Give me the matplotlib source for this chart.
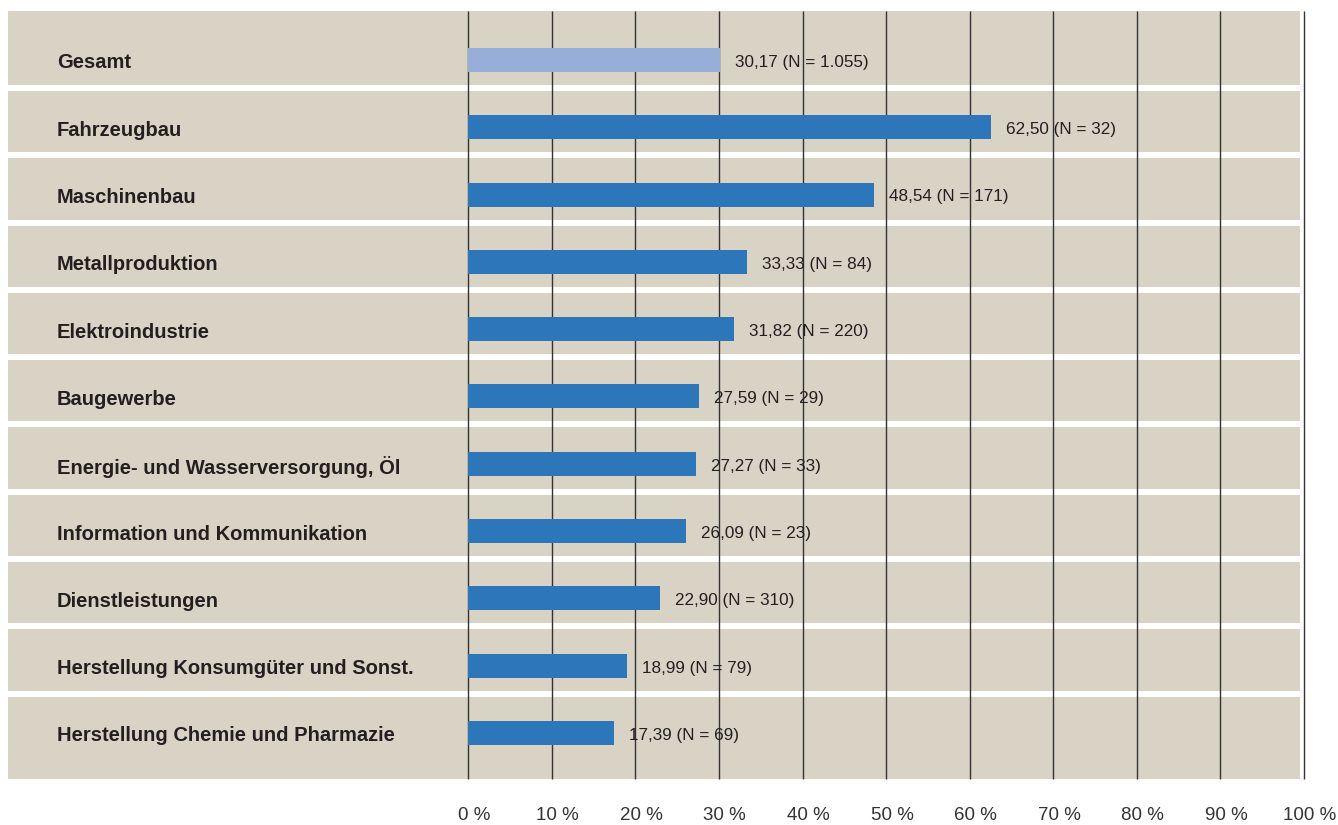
import matplotlib
matplotlib.use("Agg")
import matplotlib.pyplot as plt
from matplotlib.patches import Rectangle
from matplotlib import font_manager

categories = [
    "Gesamt",
    "Fahrzeugbau",
    "Maschinenbau",
    "Metallproduktion",
    "Elektroindustrie",
    "Baugewerbe",
    "Energie- und Wasserversorgung, Öl",
    "Information und Kommunikation",
    "Dienstleistungen",
    "Herstellung Konsumgüter und Sonst.",
    "Herstellung Chemie und Pharmazie",
]
values = [30.17, 62.50, 48.54, 33.33, 31.82, 27.59, 27.27, 26.09, 22.90, 18.99, 17.39]
n_values = ["1.055", "32", "171", "84", "220", "29", "33", "23", "310", "79", "69"]
xticks = [0, 10, 20, 30, 40, 50, 60, 70, 80, 90, 100]
xtick_labels = [f"{t} %" for t in xticks]

names = {f.name for f in font_manager.fontManager.ttflist}
if "Liberation Sans Narrow" in names:
    val_family, val_size = "Liberation Sans Narrow", 14.5
else:
    val_family, val_size = "Liberation Sans", 12.3

BEIGE = "#D9D3C6"
BLUE = "#2E76BA"
LIGHT = "#97AED8"
TXT = "#231F20"

W, H = 1338, 825
fig = plt.figure(figsize=(W / 100, H / 100), dpi=100)
x0, x1 = 468.3, 1304.0
ytop, ybot = 11, 779
ax = fig.add_axes([x0 / W, (H - ybot) / H, (x1 - x0) / W, (ybot - ytop) / H])

ppx = (x1 - x0) / 100.0
row_h = 67.3
first_c = 60.0
y_top_d = (ytop - first_c) / row_h
y_bot_d = (ybot - first_c) / row_h
ax.set_xlim(0, 100)
ax.set_ylim(y_bot_d, y_top_d)
ax.axis("off")

left_d = (8 - x0) / ppx
right_d = (1300 - x0) / ppx
ax.add_patch(Rectangle((left_d, y_top_d), right_d - left_d, y_bot_d - y_top_d,
                       facecolor=BEIGE, edgecolor="none", clip_on=False, zorder=0))
sep_off = (88 - first_c) / row_h
for i in range(len(categories) - 1):
    ax.plot([left_d, right_d], [i + sep_off] * 2, color="white", lw=4.3,
            solid_capstyle="butt", clip_on=False, zorder=1)

ax.vlines(xticks, y_top_d, y_bot_d, color="#333333", lw=1.0, zorder=2, clip_on=False)

ypos = list(range(len(categories)))
colors = [LIGHT] + [BLUE] * (len(categories) - 1)
ax.barh(ypos, values, height=24 / row_h, color=colors, zorder=3)

label_x = (57 - x0) / ppx
dy = 3 / row_h
for y, cat, v, n in zip(ypos, categories, values, n_values):
    ax.text(label_x, y + dy, cat, ha="left", va="center", fontsize=14.5,
            fontweight="bold", family=["Liberation Sans", "DejaVu Sans"], color=TXT, zorder=4)
    ax.annotate(f"{v:.2f}".replace(".", ",") + f" (N = {n})", xy=(v, y + dy * 0.8),
                xytext=(10.8, 0), textcoords="offset points", ha="left", va="center",
                fontsize=val_size, family=[val_family, "DejaVu Sans"], color=TXT, zorder=4)

tr = ax.get_xaxis_transform()
for t, lab in zip(xticks, xtick_labels):
    ax.text(t + 0.7, -(815 - ybot) / (ybot - ytop), lab, transform=tr, ha="center",
            va="center", fontsize=13.5, family="Liberation Sans", color="#333333")

fig.savefig("out.png", dpi=100, facecolor="white")
